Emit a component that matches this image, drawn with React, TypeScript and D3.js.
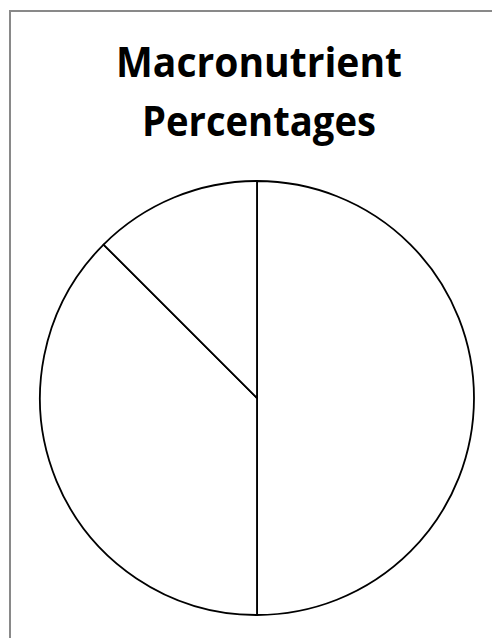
import React from "react";
import * as d3 from "d3";

const categories = ["Carbohydrate", "Fat", "Protein"];
const values = [50, 37.5, 12.5];
const titleLines = ["Macronutrient", "Percentages"];
const titleWidths = [286, 234];

const W = 492;
const H = 638;

export default function App() {
  const cx = 257;
  const cy = 398;
  const r = 217;

  const pie = d3
    .pie<number>()
    .sort(null)
    .value((d) => d);
  const arcs = pie(values);
  const arc = d3.arc<d3.PieArcDatum<number>>().innerRadius(0).outerRadius(r);

  return (
    <svg
      width={W}
      height={H}
      style={{ position: "absolute", left: 0, top: 0, background: "#fff" }}
    >
      <rect x={0} y={0} width={W} height={H} fill="#fff" />
      <rect
        x={10}
        y={11}
        width={W + 50}
        height={H + 50}
        fill="#fff"
        stroke="#898989"
        strokeWidth={2}
      />
      <g
        fontFamily="'Open Sans', Lato, sans-serif"
        fontWeight="bold"
        fontSize={41}
        textAnchor="middle"
        fill="#000"
      >
        {titleLines.map((t, i) => (
          <text
            key={t}
            x={259}
            y={77 + i * 59}
            textLength={titleWidths[i]}
            lengthAdjust="spacingAndGlyphs"
          >
            {t}
          </text>
        ))}
      </g>
      <g transform={`translate(${cx},${cy})`}>
        {arcs.map((a, i) => (
          <path
            key={categories[i]}
            d={arc(a) || ""}
            fill="#fff"
            stroke="#000"
            strokeWidth={1.8}
            strokeLinejoin="round"
          />
        ))}
      </g>
    </svg>
  );
}
